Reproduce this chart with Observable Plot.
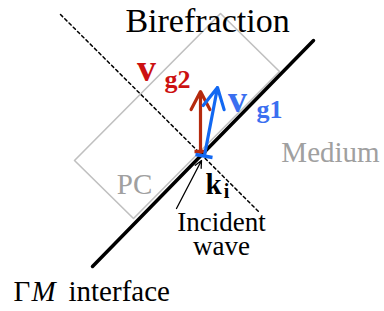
<!DOCTYPE html>
<html><head><meta charset="utf-8">
<script src="https://cdn.jsdelivr.net/npm/d3@7"></script>
<script src="https://cdn.jsdelivr.net/npm/@observablehq/plot@0.6"></script>
<style>body{margin:0;background:#fff;font-family:"Liberation Serif",serif}</style>
</head><body><div id="chart"></div>
<script>
// Diagram geometry (pixel space of the figure)
const interfaceLine = [[92,266],[313,40]];
const normalLine = [[60,14],[258,211]];
const pcBox = [[74,160],[220,13],[279,71],[133,218],[74,160]];
const vg2Arrow = [{x1:200,y1:152,x2:200,y2:91}];
const vg1Arrow = [{x1:204,y1:155,x2:217,y2:87}];
const incidentArrow = [{x1:176,y1:208,x2:201,y2:160}];
const vg2Tail = [{x1:194,y1:151,x2:206,y2:151}];
const vg1Tail = [{x1:195,y1:154,x2:212,y2:157}];

const titleLabel = [{x:207,y:31,t:"Birefraction"}];
const grayLabels = [{x:330,y:161,t:"Medium"},{x:134,y:193,t:"PC"}];
const vg2Main = [{x:146,y:80,t:"v"}];
const vg2Sub = [{x:177,y:87,t:"g2"}];
const vg1Main = [{x:237,y:111,t:"v"}];
const vg1Sub = [{x:269,y:117,t:"g1"}];
const kMain = [{x:213,y:193,t:"k"}];
const kSub = [{x:226,y:197,t:"i"}];
const incidentLabel = [{x:221,y:254,t:"Incident\nwave"}];
const interfaceUpright = [{x:13,y:300,t:"Γ"},{x:68,y:300,t:"interface"}];
const interfaceItalic = [{x:31,y:300,t:"M"}];

const FONT = "Liberation Serif, Times New Roman, serif";
const red = "#b52a0e", redText = "#cc1111", blue = "#1268f2", blueText = "#3b6ff0";
function T(data, o) {
  return Plot.text(data, Object.assign({x:"x", y:"y", text:"t", lineAnchor:"bottom", fontFamily: FONT}, o));
}

const chart = Plot.plot({
  width: 384, height: 311,
  marginTop: 0, marginRight: 0, marginBottom: 0, marginLeft: 0,
  x: {domain: [0, 384], range: [0, 384], axis: null},
  y: {domain: [0, 311], range: [0, 311], axis: null},
  marks: [
    Plot.line(pcBox, {x: d => d[0], y: d => d[1], stroke: "#c0c0c0", strokeWidth: 1.6}),
    Plot.line(normalLine, {x: d => d[0], y: d => d[1], stroke: "black", strokeWidth: 1.5, strokeDasharray: "3,3"}),
    Plot.line(interfaceLine, {x: d => d[0], y: d => d[1], stroke: "black", strokeWidth: 3.5}),
    Plot.arrow(incidentArrow, {x1:"x1", y1:"y1", x2:"x2", y2:"y2", stroke:"black", strokeWidth:1.3, headLength:9, headAngle:50}),
    Plot.link(vg2Tail, {x1:"x1", y1:"y1", x2:"x2", y2:"y2", stroke: red, strokeWidth: 3.5}),
    Plot.arrow(vg2Arrow, {x1:"x1", y1:"y1", x2:"x2", y2:"y2", stroke: red, strokeWidth:3.2, headLength:13, headAngle:55}),
    Plot.link(vg1Tail, {x1:"x1", y1:"y1", x2:"x2", y2:"y2", stroke: blue, strokeWidth: 3.5}),
    Plot.arrow(vg1Arrow, {x1:"x1", y1:"y1", x2:"x2", y2:"y2", stroke: blue, strokeWidth:3.2, headLength:13, headAngle:55}),
    T(titleLabel, {fontSize:34, fill:"black"}),
    T(grayLabels, {fontSize:29, fill:"#a0a0a0"}),
    T(vg2Main, {fontSize:38, fontWeight:"bold", fill:redText}),
    T(vg2Sub, {fontSize:26, fontWeight:"bold", fill:redText}),
    T(vg1Main, {fontSize:38, fontWeight:"bold", fill:blueText}),
    T(vg1Sub, {fontSize:26, fontWeight:"bold", fill:blueText}),
    T(kMain, {fontSize:29, fontWeight:"bold", fill:"black"}),
    T(kSub, {fontSize:20, fontWeight:"bold", fill:"black"}),
    T(incidentLabel, {fontSize:27, lineHeight:0.86, fill:"black"}),
    T(interfaceUpright, {fontSize:29, fill:"black", textAnchor:"start"}),
    T(interfaceItalic, {fontSize:29, fill:"black", fontStyle:"italic", textAnchor:"start"})
  ]
});
document.getElementById("chart").append(chart);
</script>
</body></html>
